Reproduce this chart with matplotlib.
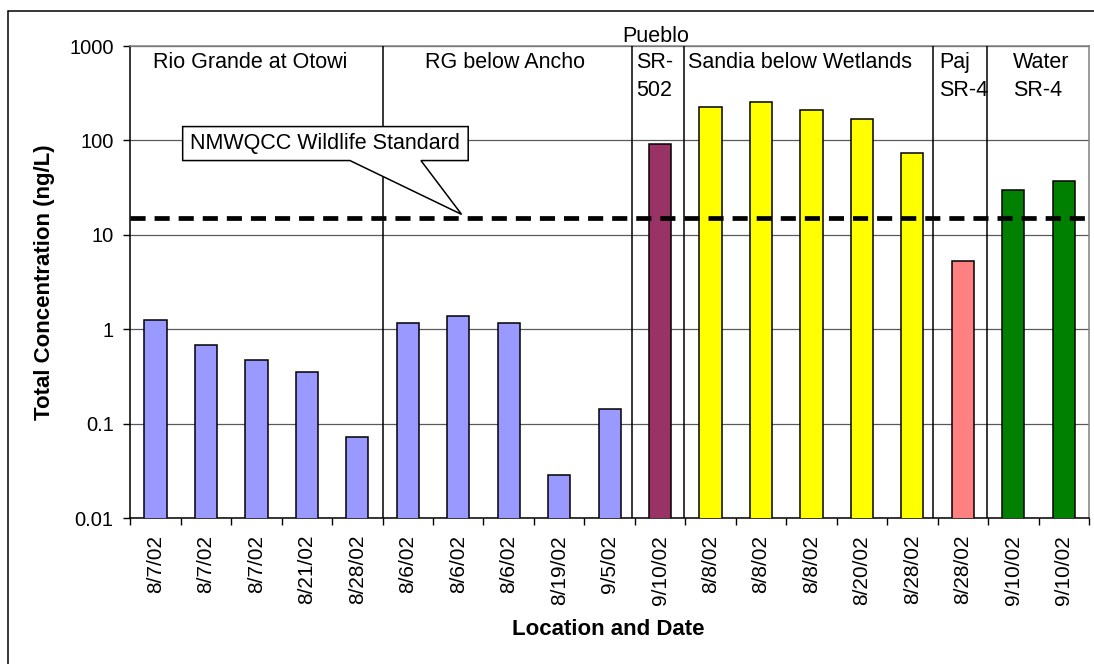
import matplotlib.pyplot as plt
from matplotlib.patches import Polygon, Rectangle
from matplotlib.ticker import NullLocator
import numpy as np

plt.rcParams['font.family'] = ['Liberation Sans', 'DejaVu Sans']

# sample dates and total concentrations (ng/L)
dates = ['8/7/02', '8/7/02', '8/7/02', '8/21/02', '8/28/02',
         '8/6/02', '8/6/02', '8/6/02', '8/19/02', '9/5/02',
         '9/10/02',
         '8/8/02', '8/8/02', '8/8/02', '8/20/02', '8/28/02',
         '8/28/02',
         '9/10/02', '9/10/02']
conc = [1.27, 0.69, 0.47, 0.355, 0.072,
        1.16, 1.39, 1.16, 0.029, 0.143,
        91,
        226, 257, 208, 170, 74,
        5.3,
        30, 37]

# location groups: label, number of samples, bar colour
groups = ['Rio Grande at Otowi', 'RG below Ancho', 'SR-\n502',
          'Sandia below Wetlands', 'Paj\nSR-4', 'Water\nSR-4']
group_sizes = [5, 5, 1, 5, 1, 2]
group_colors = ['#9999FF', '#9999FF', '#993366', '#FFFF00', '#FF8080', '#008000']

standard = 15  # NMWQCC wildlife standard, ng/L

colors = []
for c, n in zip(group_colors, group_sizes):
    colors += [c] * n
x = np.arange(len(conc))

fig = plt.figure(figsize=(10.94, 6.64), dpi=100)
ax = fig.add_axes([0.1191, 0.2194, 0.8763, 0.7113])
ax.set_yscale('log')

ax.bar(x, conc, width=0.44, color=colors, edgecolor='black', linewidth=1.1, zorder=3)

ax.set_xlim(-0.5, len(conc) - 0.5)
ax.set_ylim(0.01, 1000)

yt = [0.01, 0.1, 1, 10, 100, 1000]
ax.set_yticks(yt)
ax.set_yticklabels(['0.01', '0.1', '1', '10', '100', '1000'])
ax.yaxis.set_minor_locator(NullLocator())
ax.tick_params(axis='y', which='major', length=5, width=1, direction='out', pad=7, labelsize=14.5)

ax.set_xticks(x)
ax.set_xticklabels(dates, rotation=90)
ax.set_xticks(np.arange(-0.5, len(conc)), minor=True)
ax.tick_params(axis='x', which='major', length=0, pad=12, labelsize=15)
ax.tick_params(axis='x', which='minor', length=5, width=1, direction='out')

ax.yaxis.grid(True, color='#5a5a5a', linewidth=0.9, zorder=0)
ax.set_axisbelow(True)

for side in ['left', 'bottom']:
    ax.spines[side].set_color('black')
    ax.spines[side].set_linewidth(1.1)
for side in ['top', 'right']:
    ax.spines[side].set_color('#808080')
    ax.spines[side].set_linewidth(1.1)

# location separators
edges = np.cumsum(group_sizes)[:-1] - 0.5
shift = [0, -0.06, -0.03, -0.09, -0.03]
for e, s in zip(edges, shift):
    ax.axvline(e + s, color='black', linewidth=1.1, zorder=4)

# wildlife standard
ax.axhline(standard, color='black', linewidth=3.4, dashes=(3.2, 1.9), zorder=5)

# location labels (left aligned text boxes), one text per line
label_x = [-0.044, 5.339, 9.52, 10.556, 15.53, 16.996]
tr = ax.get_xaxis_transform()
for lab, lx in zip(groups, label_x):
    for k, line in enumerate(lab.split('\n')):
        ax.text(lx, 0.9528 - k * 0.0593, line, transform=tr, ha='left',
                va='baseline', fontsize=15.5)
ax.text(9.256, 1.0078, 'Pueblo', transform=tr, ha='left', va='baseline',
        fontsize=15.5, clip_on=False)

# callout for the standard line
bl, br, bb, bt = 0.538, 6.197, 61.3, 140.3
callout = Polygon([(bl, bt), (br, bt), (br, bb), (5.26, bb), (6.066, 16.5),
                   (3.853, bb), (bl, bb)], closed=True, facecolor='white',
                  edgecolor='black', linewidth=1.1, zorder=6)
ax.add_patch(callout)
ax.text((bl + br) / 2, 92.7, 'NMWQCC Wildlife Standard', ha='center', va='center',
        fontsize=15.5, zorder=7)

ax.text(-0.0895, 0.5, 'Total Concentration (ng/L)', transform=ax.transAxes,
        rotation=90, ha='center', va='center', fontsize=16, fontweight='bold')
ax.text(0.499, -0.2354, 'Location and Date', transform=ax.transAxes,
        ha='center', va='center', fontsize=16, fontweight='bold')

# outer chart border
fig.patches.append(Rectangle((8 / 1094, -0.1), 1.2, 1.1 - 11 / 664,
                             transform=fig.transFigure, fill=False,
                             edgecolor='black', linewidth=1.1))

fig.savefig('out.png', dpi=100)
